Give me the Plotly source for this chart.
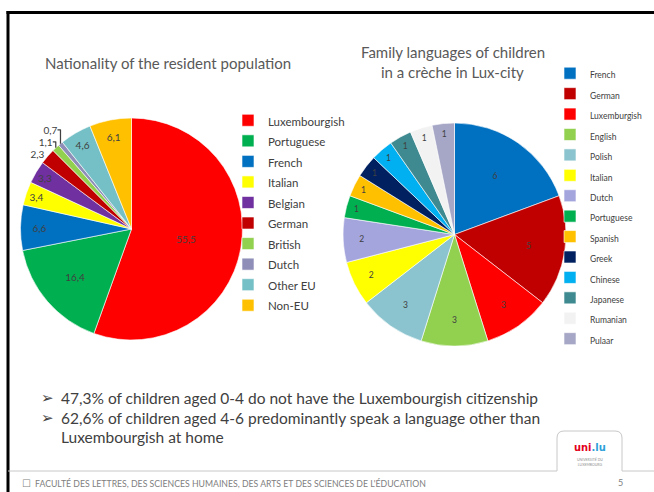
import plotly.graph_objects as go

W, H = 654, 492

# ---------------- data ----------------
nat_labels = ["Luxembourgish", "Portuguese", "French", "Italian", "Belgian",
              "German", "British", "Dutch", "Other EU", "Non-EU"]
nat_values = [55.5, 16.4, 6.6, 3.4, 3.3, 2.3, 1.1, 0.7, 4.6, 6.1]
nat_colors = ["#FF0000", "#00B050", "#0070C0", "#FFFF00", "#7030A0",
              "#C00000", "#92D050", "#8E8EB8", "#74C0C6", "#FFC000"]

lang_labels = ["French", "German", "Luxemburgish", "English", "Polish", "Italian",
               "Dutch", "Portuguese", "Spanish", "Greek", "Chinese", "Japanese",
               "Rumanian", "Pulaar"]
lang_values = [6, 5, 3, 3, 3, 2, 2, 1, 1, 1, 1, 1, 1, 1]
lang_colors = ["#0070C0", "#C00000", "#FF0000", "#92D050", "#8BC4CE", "#FFFF00",
               "#A5A5DE", "#00B050", "#FFC000", "#002060", "#00B0F0", "#3E8A90",
               "#F2F2F2", "#A6A6C6"]

bullets = [
    "47,3% of children aged 0-4 do not have the Luxembourgish citizenship",
    "62,6% of children aged 4-6 predominantly speak a language other than",
    "Luxembourgish at home",
]


def px(x):
    return x / W


def py(y):
    return 1 - y / H


TXT = "#404040"
FONT = "Lato"

nat_text = [f"{v:.1f}".replace(".", ",") for v in nat_values]
nat_pos = ["outside" if v < 3 else "inside" for v in nat_values]

fig = go.Figure()

fig.add_trace(go.Pie(
    labels=[f'<span style="font-size:11.5px">{l}</span>' for l in nat_labels],
    values=nat_values,
    text=nat_text,
    textinfo="text",
    textposition=nat_pos,
    insidetextorientation="horizontal",
    textfont=dict(family=FONT, size=10, color=TXT),
    marker=dict(colors=nat_colors, line=dict(color="white", width=0.6)),
    sort=False, direction="clockwise", rotation=0,
    domain=dict(x=[px(20), px(243)], y=[py(340), py(118)]),
    legend="legend",
    hoverinfo="label+value",
))

fig.add_trace(go.Pie(
    labels=[f'<span style="font-size:8.5px">{l}</span>' for l in lang_labels],
    values=lang_values,
    text=[str(v) for v in lang_values],
    textinfo="text",
    textposition="inside",
    insidetextorientation="horizontal",
    textfont=dict(family=FONT, size=8.5, color=TXT),
    marker=dict(colors=lang_colors, line=dict(color="white", width=0.6)),
    sort=False, direction="clockwise", rotation=0,
    domain=dict(x=[px(343), px(566)], y=[py(346), py(123)]),
    legend="legend2",
    hoverinfo="label+value",
))

shapes = [
    # slide border
    dict(type="line", xref="paper", yref="paper", x0=px(6.5), x1=1, y0=py(12.5), y1=py(12.5),
         line=dict(color="black", width=3)),
    dict(type="line", xref="paper", yref="paper", x0=px(8), x1=px(8), y0=py(11), y1=0,
         line=dict(color="black", width=3)),
    # footer line with logo tab
    dict(type="path", xref="paper", yref="paper",
         path=(f"M {px(8)},{py(471)} L {px(557)},{py(471)} L {px(557)},{py(438)} "
               f"Q {px(557)},{py(431)} {px(564)},{py(431)} L {px(615)},{py(431)} "
               f"Q {px(622)},{py(431)} {px(622)},{py(438)} L {px(622)},{py(471)} L 1,{py(471)}"),
         line=dict(color="#C8C8C8", width=1)),
]

ann = []
ann.append(dict(text="Nationality of the resident population", x=px(168), y=py(63),
                font=dict(family=FONT, size=15, color="#595959")))
ann.append(dict(text="Family languages of children", x=px(453), y=py(52),
                font=dict(family=FONT, size=15, color="#595959")))
ann.append(dict(text="in a crèche in Lux-city", x=px(453), y=py(72),
                font=dict(family=FONT, size=15, color="#595959")))
for i, yy in enumerate([398, 418]):
    ann.append(dict(text="➢", x=px(47), y=py(yy), xanchor="center",
                    font=dict(family="DejaVu Sans", size=15, color=TXT)))
for t, yy in zip(bullets, [398, 418, 437]):
    ann.append(dict(text=t, x=px(59), y=py(yy), xanchor="left",
                    font=dict(family=FONT, size=15.5, color=TXT)))
ann.append(dict(text="☐", x=px(26), y=py(483), xanchor="center",
                font=dict(family="DejaVu Sans", size=10, color="#808080")))
ann.append(dict(text="FACULTÉ DES LETTRES, DES SCIENCES HUMAINES, DES ARTS ET DES SCIENCES DE L'ÉDUCATION",
                x=px(33), y=py(483), xanchor="left",
                font=dict(family=FONT, size=8.7, color="#808080")))
ann.append(dict(text="5", x=px(620), y=py(482), font=dict(family=FONT, size=9, color="#808080")))
ann.append(dict(text='<b><span style="color:#E3001B">uni</span><span style="color:#2E9FD8">.lu</span></b>',
                x=px(590), y=py(447), font=dict(family="DejaVu Sans Condensed", size=11)))
ann.append(dict(text="UNIVERSITÉ DU<br>LUXEMBOURG", x=px(590), y=py(462),
                font=dict(family=FONT, size=3.5, color="#909090")))

for a in ann:
    a.setdefault("xanchor", "center")
    a.update(xref="paper", yref="paper", showarrow=False, yanchor="middle")

fig.update_layout(
    width=W, height=H,
    margin=dict(l=0, r=0, t=0, b=0),
    paper_bgcolor="white",
    plot_bgcolor="white",
    font=dict(family=FONT, color=TXT),
    shapes=shapes,
    annotations=ann,
    legend=dict(x=px(228), y=py(105), xanchor="left", yanchor="top",
                font=dict(family=FONT, size=13.5, color=TXT),
                bgcolor="rgba(0,0,0,0)", traceorder="normal"),
    legend2=dict(x=px(550), y=py(58), xanchor="left", yanchor="top",
                 font=dict(family=FONT, size=13.4, color=TXT),
                 bgcolor="rgba(0,0,0,0)", traceorder="normal"),
    showlegend=True,
)

fig.write_html("out.html")
